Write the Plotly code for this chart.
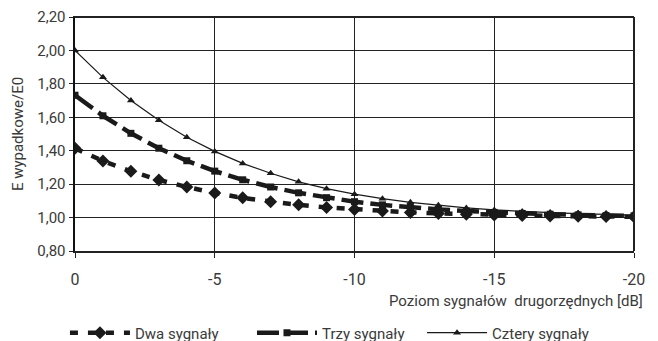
import plotly.graph_objects as go

poziom = [0, -1, -2, -3, -4, -5, -6, -7, -8, -9, -10, -11, -12, -13, -14, -15, -16, -17, -18, -19, -20]
dwa = [1.414, 1.339, 1.277, 1.225, 1.183, 1.147, 1.118, 1.095, 1.076, 1.061, 1.049,
       1.039, 1.031, 1.025, 1.020, 1.016, 1.012, 1.010, 1.008, 1.006, 1.005]
trzy = [1.732, 1.609, 1.504, 1.415, 1.340, 1.278, 1.226, 1.183, 1.148, 1.119, 1.095,
        1.076, 1.061, 1.049, 1.039, 1.031, 1.025, 1.020, 1.016, 1.012, 1.010]
cztery = [2.000, 1.839, 1.701, 1.582, 1.481, 1.396, 1.324, 1.265, 1.214, 1.173, 1.140,
          1.113, 1.091, 1.073, 1.058, 1.046, 1.037, 1.030, 1.024, 1.019, 1.015]
names = ["Dwa sygnały", "Trzy sygnały", "Cztery sygnały"]
x_ticks = [0, -5, -10, -15, -20]
x_ticktext = ["0", "-5", "-10", "-15", "-20"]
y_ticks = [0.8, 1.0, 1.2, 1.4, 1.6, 1.8, 2.0, 2.2]

FONT = "Roboto, Liberation Sans, sans-serif"
C = "#1a1a1a"
TXT = "#3a3a3a"

fig = go.Figure()
fig.add_trace(go.Scatter(x=poziom, y=dwa, name=names[0], mode="lines+markers", legend="legend",
                         line=dict(color=C, width=4.5, dash="8px,10px"),
                         marker=dict(symbol="diamond", size=10, color=C)))
fig.add_trace(go.Scatter(x=poziom, y=trzy, name=names[1], mode="lines+markers", legend="legend2",
                         line=dict(color=C, width=4.5, dash="22px,7px"),
                         marker=dict(symbol="square", size=7, color=C)))
fig.add_trace(go.Scatter(x=poziom, y=cztery, name=names[2], mode="lines+markers", legend="legend3",
                         line=dict(color=C, width=1.2),
                         marker=dict(symbol="triangle-up", size=7, color=C)))

leg = dict(orientation="h", xanchor="left", y=-0.35, yanchor="middle",
           font=dict(family=FONT, size=15, color=TXT), itemwidth=60,
           bgcolor="rgba(0,0,0,0)")
fig.update_layout(
    width=658, height=341,
    margin=dict(l=75, r=24, t=17, b=90, autoexpand=False),
    paper_bgcolor="white", plot_bgcolor="white",
    separators=", ",
    font=dict(family=FONT, size=15, color=TXT),
    showlegend=True,
    hovermode=False,
    legend=dict(leg, x=-0.018),
    legend2=dict(leg, x=0.3166),
    legend3=dict(leg, x=0.6208),
)
fig.update_xaxes(range=[0, -20], tickvals=x_ticks, ticktext=x_ticktext,
                 showgrid=True, gridcolor="#222", gridwidth=1,
                 showline=True, linecolor="#222", linewidth=1.5, mirror=True,
                 ticks="outside", ticklen=5, tickcolor="#222", ticklabelstandoff=8,
                 zeroline=False, tickfont=dict(size=16))
fig.update_yaxes(range=[0.8, 2.2], tickvals=y_ticks, tickformat=".2f",
                 showgrid=True, gridcolor="#222", gridwidth=1,
                 showline=True, linecolor="#111", linewidth=2.5, mirror=False,
                 ticks="outside", ticklen=4, tickcolor="#222",
                 zeroline=False, tickfont=dict(size=15),
                 title=dict(text="E wypadkowe/E0", font=dict(size=15), standoff=10))
fig.add_shape(type="line", xref="paper", yref="paper", x0=0, x1=1, y0=1, y1=1,
              line=dict(color="#222", width=2))
fig.add_shape(type="line", xref="paper", yref="paper", x0=1, x1=1, y0=0, y1=1,
              line=dict(color="#222", width=2))
fig.add_annotation(text="Poziom sygnałów  drugorzędnych [dB]", xref="paper", yref="paper",
                   x=1.0, xanchor="right", xshift=11, y=-0.214, yanchor="middle",
                   showarrow=False, font=dict(family=FONT, size=15, color=TXT))

fig.write_html("out.html", config={"displayModeBar": False, "staticPlot": True},
               post_script="document.body.style.margin='0';")
